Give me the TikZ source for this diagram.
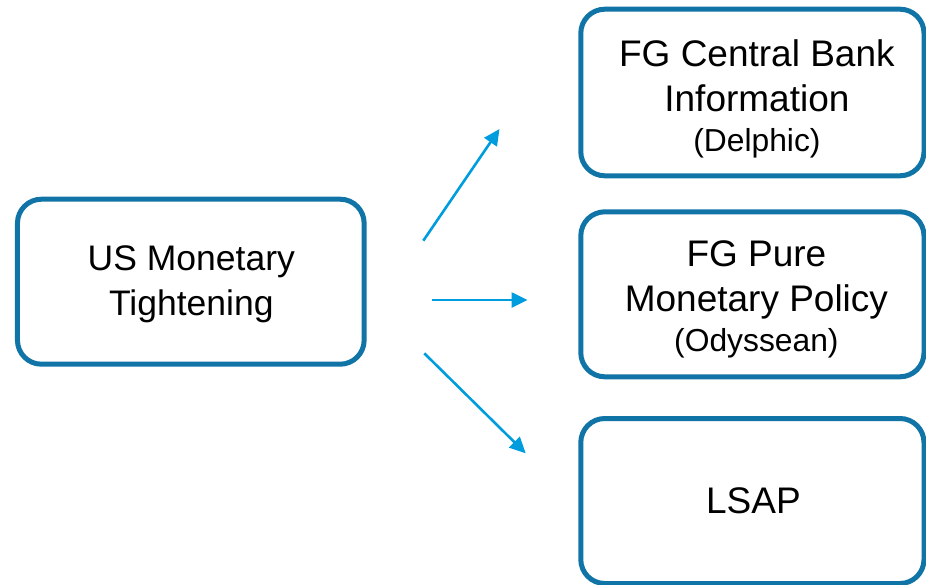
\documentclass[tikz,border=0pt]{standalone}
\usepackage{fontspec}
\setmainfont{Liberation Sans}
\usetikzlibrary{arrows.meta}
\definecolor{boxblue}{RGB}{17,116,166}
\definecolor{arrowblue}{RGB}{0,157,222}
\tikzset{
  frame/.style={draw=boxblue, line width=5pt, rounded corners=24pt, fill=white,
    inner sep=0pt, minimum width=343.2pt, minimum height=165pt},
  label text/.style={align=center, inner sep=0pt, text=black,
    font=\fontsize{37}{45}\selectfont},
  flow/.style={draw=arrowblue, line width=2.6pt,
    -{Triangle[length=16pt,width=15pt]}}
}
\newcommand{\subtitle}[1]{{\fontsize{31.8}{36}\selectfont #1}}
\begin{document}
\begin{tikzpicture}[x=1pt,y=-1pt]
  \useasboundingbox (0,0) rectangle (926,584);

  % source box
  \node[frame, minimum width=346.7pt] (us) at (190.8,281.7) {};
  \node[label text, font=\fontsize{35.5}{45}\selectfont] (ustext)
    at ([shift={(0.5,3)}]us.center) {US Monetary\\Tightening};

  % three channels
  \node[frame, minimum height=166.6pt] (cbi) at (752.4,92.5) {};
  \node[label text] (cbitext) at ([shift={(4.5,6)}]cbi.center)
    {FG Central Bank\\Information\\[-5pt]\subtitle{(Delphic)}};

  \node[frame] (pmp) at (752.4,294.3) {};
  \node[label text] (pmptext) at ([shift={(4,5)}]pmp.center)
    {FG Pure\\Monetary Policy\\[-5.5pt]\subtitle{(Odyssean)}};

  \node[frame] (lsap) at (752.4,501) {};
  \node[label text] (lsaptext) at ([shift={(1,0)}]lsap.center) {LSAP};

  % arrow end points
  \coordinate (s1) at (423.3,240.7);
  \coordinate (e1) at (499.5,129);
  \coordinate (s2) at (431.7,300);
  \coordinate (e2) at (527.5,300);
  \coordinate (s3) at (424.3,353.3);
  \coordinate (e3) at (525.7,453.3);

  \draw[flow] (s1) -- (e1);
  \draw[flow] (s2) -- (e2);
  \draw[flow] (s3) -- (e3);
\end{tikzpicture}
\end{document}
